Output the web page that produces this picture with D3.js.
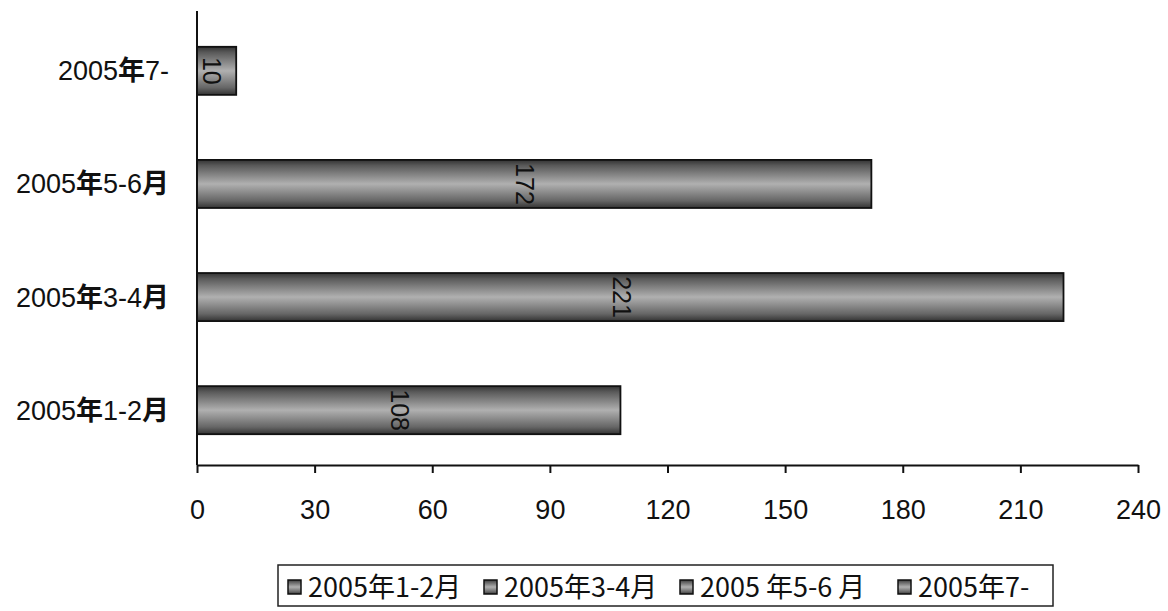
<!DOCTYPE html>
<html><head><meta charset="utf-8">
<script src="https://cdn.jsdelivr.net/npm/d3@7/dist/d3.min.js"></script>
<style>body{margin:0;background:#fff;}svg{display:block;}</style>
</head><body>
<svg id="c" width="1168" height="611"></svg>
<script>
const categories = ["2005年1-2月","2005年3-4月","2005年5-6月","2005年7-"];
const values = [108, 221, 172, 10];
const xTicks = [0,30,60,90,120,150,180,210,240];
const legendLabels = ["2005年1-2月","2005年3-4月","2005 年5-6 月","2005年7-"];

const svg = d3.select("#c");
const mLeft = 197, mRight = 1138, mTop = 14, mBottom = 465;
const x = d3.scaleLinear().domain([0,240]).range([mLeft,mRight]);
const y = d3.scaleBand().domain(categories).range([mBottom + 2, mTop]).paddingInner(0.575).paddingOuter(0.29);

const defs = svg.append("defs");
const g = defs.append("linearGradient").attr("id","cyl").attr("x1",0).attr("y1",0).attr("x2",0).attr("y2",1);
[[0,"#333"],[0.12,"#5a5a5a"],[0.5,"#b0b0b0"],[0.85,"#666"],[1,"#333"]].forEach(([o,c])=>g.append("stop").attr("offset",o).attr("stop-color",c));

const latin = "'Liberation Sans', Arial, 'Noto Sans CJK SC', sans-serif";

// bars
svg.append("g").selectAll("rect").data(categories).join("rect")
  .attr("x", x(0)).attr("y", d=>y(d))
  .attr("width", (d,i)=>x(values[i])-x(0)).attr("height", y.bandwidth())
  .attr("fill","url(#cyl)").attr("stroke","#111").attr("stroke-width",1.8);

// value labels rotated
svg.append("g").selectAll("text").data(categories).join("text")
  .attr("transform",(d,i)=>`translate(${(x(0)+x(values[i]))/2 - (values[i]<20?5:9)},${y(d)+y.bandwidth()/2}) rotate(90)`)
  .attr("text-anchor","middle").attr("dy","0.35em")
  .style("font-family",latin).style("font-size","25px").attr("fill","#111")
  .text((d,i)=>values[i]);

// x axis
const xa = svg.append("g").attr("transform",`translate(0,${mBottom})`)
  .call(d3.axisBottom(x).tickValues(xTicks).tickSize(8).tickSizeOuter(0));
xa.select(".domain").attr("stroke","#111").attr("stroke-width",2);
xa.selectAll(".tick line").attr("stroke","#111").attr("stroke-width",2);
xa.selectAll("text").attr("y",54).attr("dy","0").style("font-family",latin).style("font-size","27px").attr("fill","#111");

// y axis
const ya = svg.append("g").attr("transform",`translate(${mLeft},0)`)
  .call(d3.axisLeft(y).tickSize(0).tickPadding(28));
ya.select(".domain").attr("d",`M0,11V${mBottom}`).attr("stroke","#111").attr("stroke-width",2);
ya.selectAll("text").style("font-family",latin).style("font-size","27px").attr("fill","#111").attr("dy","0.35em")
  .each(function(d){
    const t = d3.select(this); t.text(null);
    d.split(/([年月])/).filter(s=>s.length).forEach(s=>{
      t.append("tspan").text(s).style("font-weight", /[年月]/.test(s) ? "bold" : "normal");
    });
  });

// legend
const lg = svg.append("g");
lg.append("rect").attr("x",278).attr("y",565).attr("width",775).attr("height",41).attr("fill","#fff").attr("stroke","#222").attr("stroke-width",1.5);
const lx = [288, 484, 680, 898];
const item = lg.selectAll("g.it").data(legendLabels).join("g").attr("class","it")
  .attr("transform",(d,i)=>`translate(${lx[i]},587)`);
item.append("rect").attr("x",0).attr("y",-7).attr("width",13).attr("height",14).attr("fill","url(#cyl)").attr("stroke","#111").attr("stroke-width",1.5);
item.append("text").attr("x",20).attr("dy","0.36em")
  .style("font-family","'Noto Sans CJK SC', sans-serif").style("font-size","27px").attr("fill","#111")
  .text(d=>d);
</script>
</body></html>
